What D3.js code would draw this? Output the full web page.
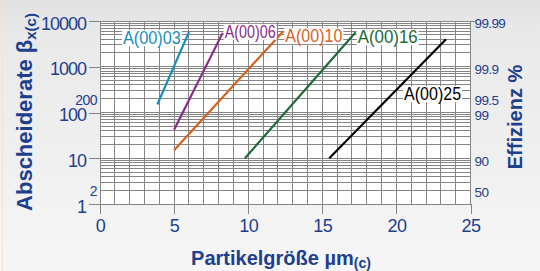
<!DOCTYPE html>
<html>
<head>
<meta charset="utf-8">
<script src="https://cdn.jsdelivr.net/npm/d3@7"></script>
<style>
  html, body { margin: 0; padding: 0; }
  body { width: 540px; height: 271px; overflow: hidden; }
  svg { display: block; }
</style>
</head>
<body>
<svg id="chart" width="540" height="271"></svg>
<script>
// ---- data ----
const xTicks = [0, 5, 10, 15, 20, 25];
const betaMajor = [1, 10, 100, 1000, 10000];
const betaMinorLabels = [2, 200];
const effBeta = [10000, 1000, 200, 100, 10, 2];
const effLabels = ["99.99", "99.9", "99.5", "99", "90", "50"];
const seriesNames = ["A(00)03", "A(00)06", "A(00)10", "A(00)16", "A(00)25"];
const seriesX = [[3.87, 6.0], [5.0, 8.28], [5.0, 12.37], [9.78, 17.25], [15.47, 23.35]];
const seriesBeta = [[150, 5700], [42, 5500], [15, 6000], [10, 5700], [10, 4000]];

// ---- styles ----
const seriesColors = ["#1b8dba", "#8a2a88", "#d4621d", "#1d6a36", "#000000"];
const labelPlacement = [
  { anchor: "end", dx: -8, dy: 12, w: 58 },
  { anchor: "start", dx: 2, dy: 5, w: 51 },
  { anchor: "start", dx: 2, dy: 11, w: 57 },
  { anchor: "start", dx: 2, dy: 11, w: 60 },
  { anchor: "start", dx: -42, dy: 61, w: 57 }
];
const blue = "#1d3f8e";
const gridColor = "#858585";

const svg = d3.select("#chart");
const defs = svg.append("defs");
const grad = defs.append("linearGradient").attr("id", "bg").attr("x1", 0).attr("y1", 0).attr("x2", 0).attr("y2", 1);
grad.append("stop").attr("offset", 0).attr("stop-color", "#e1e1e1");
grad.append("stop").attr("offset", 0.12).attr("stop-color", "#e9e9e9");
grad.append("stop").attr("offset", 1).attr("stop-color", "#f6f6f6");
svg.append("rect").attr("width", 540).attr("height", 271).attr("fill", "url(#bg)");
svg.append("line").attr("x1", 2.5).attr("x2", 2.5).attr("y1", 0).attr("y2", 271)
  .attr("stroke", "#f8e2c6").attr("stroke-width", 1);

const x = d3.scaleLinear().domain([0, 25]).range([100, 470.5]);
const y = d3.scaleLog().domain([1, 10000]).range([204, 21]);

// plot background
svg.append("rect").attr("x", x(0)).attr("y", y(10000))
  .attr("width", x(25) - x(0)).attr("height", y(1) - y(10000)).attr("fill", "#ffffff");

// grid
const grid = svg.append("g").attr("stroke", gridColor).attr("stroke-width", 1).attr("shape-rendering", "crispEdges");
const hVals = [];
[1, 10, 100, 1000].forEach(d => { for (let k = 1; k <= 9; k++) hVals.push(d * k); });
hVals.push(10000);
grid.selectAll("line.h").data(hVals).join("line").attr("class", "h")
  .attr("x1", x(0)).attr("x2", x(25)).attr("y1", d => y(d)).attr("y2", d => y(d));
grid.selectAll("line.v").data(d3.range(0, 26)).join("line").attr("class", "v")
  .attr("x1", d => x(d)).attr("x2", d => x(d)).attr("y1", y(10000)).attr("y2", y(1));
grid.append("line").attr("x1", x(25)).attr("x2", x(25) + 4).attr("y1", y(10000)).attr("y2", y(10000));

// axes
const fontFamily = "'Liberation Sans', Arial, Helvetica, sans-serif";
const xAxis = svg.append("g").attr("transform", `translate(0,${y(1)})`)
  .call(d3.axisBottom(x).tickValues(xTicks).tickSize(10).tickPadding(5).tickFormat(d3.format("d")));
xAxis.select(".domain").remove();
xAxis.selectAll(".tick line").attr("stroke", gridColor).attr("shape-rendering", "crispEdges");
xAxis.selectAll("text").attr("fill", blue).style("font-family", fontFamily).style("font-size", "18px").style("letter-spacing", "-0.5px");

const yAxis = svg.append("g").attr("transform", `translate(${x(0)},0)`)
  .call(d3.axisLeft(y).tickValues(betaMajor).tickSize(11).tickPadding(3).tickFormat(d3.format("d")));
yAxis.select(".domain").remove();
yAxis.selectAll(".tick line").attr("stroke", gridColor).attr("shape-rendering", "crispEdges");
yAxis.selectAll("text").attr("fill", blue).attr("dy", "0.45em").style("font-family", fontFamily).style("font-size", "18px").style("letter-spacing", "-1px");

const yMinor = svg.append("g").attr("transform", `translate(${x(0)},0)`)
  .call(d3.axisLeft(y).tickValues(betaMinorLabels).tickSize(0).tickPadding(3).tickFormat(d3.format("d")));
yMinor.select(".domain").remove();
yMinor.selectAll("text").attr("fill", blue).attr("dy", "0.4em").style("font-family", fontFamily).style("font-size", "14px").style("letter-spacing", "-0.5px");

const yRight = svg.append("g").attr("transform", `translate(${x(25)},0)`)
  .call(d3.axisRight(y).tickValues(effBeta).tickSize(0).tickPadding(4).tickFormat((d, i) => effLabels[i]));
yRight.select(".domain").remove();
yRight.selectAll("text").attr("fill", blue).attr("dy", d => d === 200 ? "0.4em" : "0.5em")
  .style("font-family", fontFamily).style("font-size", "13.5px").style("letter-spacing", "-0.6px");

// series lines
const line = d3.line().x(d => x(d[0])).y(d => y(d[1]));
seriesNames.forEach((name, i) => {
  const pts = seriesX[i].map((v, j) => [v, seriesBeta[i][j]]);
  svg.append("path").attr("d", line(pts)).attr("fill", "none")
    .attr("stroke", seriesColors[i]).attr("stroke-width", 2.2);
});

// series labels
seriesNames.forEach((name, i) => {
  const last = seriesX[i].length - 1;
  const px = x(seriesX[i][last]), py = y(seriesBeta[i][last]);
  const p = labelPlacement[i];
  const g = svg.append("g");
  const t = g.append("text").attr("x", px + p.dx).attr("y", py + p.dy)
    .attr("text-anchor", p.anchor).attr("fill", seriesColors[i])
    .attr("textLength", p.w).attr("lengthAdjust", "spacingAndGlyphs")
    .style("font-family", fontFamily).style("font-size", "18px")
    .text(name);
  const bb = t.node().getBBox();
  g.insert("rect", "text").attr("x", bb.x - 1).attr("y", bb.y + 2)
    .attr("width", bb.width + 2).attr("height", bb.height - 4).attr("fill", "#ffffff");
});

// titles
const xt = svg.append("text").attr("x", 281).attr("y", 265).attr("text-anchor", "middle")
  .attr("fill", blue).style("font-family", fontFamily).style("font-weight", "bold").style("font-size", "20px");
xt.append("tspan").text("Partikelgröße µm");
xt.append("tspan").attr("dy", 3).style("font-size", "14px").text("(c)");

const yt = svg.append("text").attr("transform", "translate(32,112) rotate(-90)").attr("text-anchor", "middle")
  .attr("fill", blue).style("font-family", fontFamily).style("font-weight", "bold").style("font-size", "22px");
yt.append("tspan").text("Abscheiderate β");
yt.append("tspan").attr("dy", 4).style("font-size", "15px").text("x(c)");

svg.append("text").attr("transform", "translate(522,117) rotate(-90)").attr("text-anchor", "middle")
  .attr("fill", blue).style("font-family", fontFamily).style("font-weight", "bold").style("font-size", "20px")
  .text("Effizienz %");
</script>
</body>
</html>
